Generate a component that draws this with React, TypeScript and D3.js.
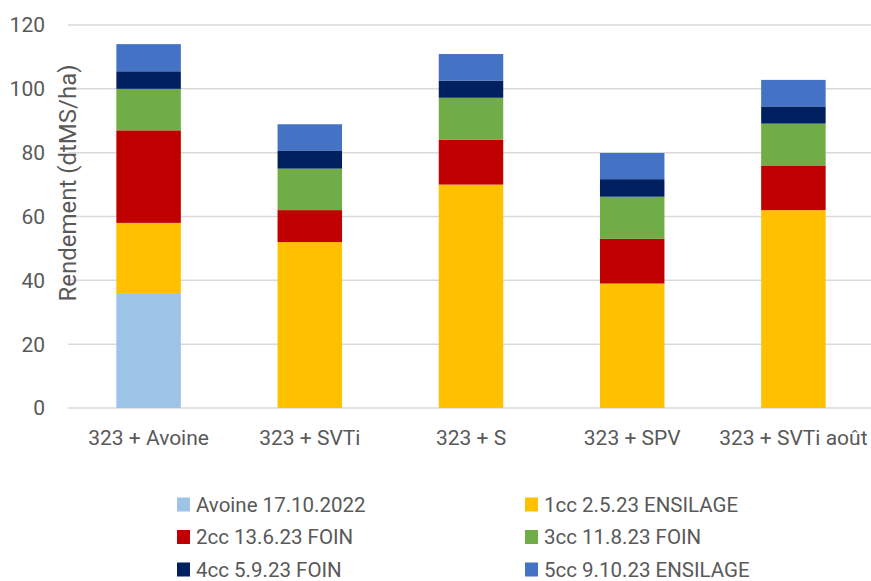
import React from "react";
import * as d3 from "d3";

const categories = ["323 + Avoine", "323 + SVTi", "323 + S", "323 + SPV", "323 + SVTi août"];
const seriesNames = [
  "Avoine 17.10.2022",
  "1cc 2.5.23 ENSILAGE",
  "2cc 13.6.23 FOIN",
  "3cc 11.8.23 FOIN",
  "4cc 5.9.23 FOIN",
  "5cc 9.10.23 ENSILAGE",
];
const seriesColors = ["#9dc3e6", "#ffc000", "#c00000", "#70ad47", "#002060", "#4472c4"];
const avoine = [36, 0, 0, 0, 0];
const cc1 = [22, 52, 70, 39, 62];
const cc2 = [29, 10, 14, 14, 14];
const cc3 = [13, 13, 13.2, 13.2, 13.1];
const cc4 = [5.5, 5.7, 5.4, 5.5, 5.4];
const cc5 = [8.5, 8.2, 8.3, 8.2, 8.3];
const yTicks = [0, 20, 40, 60, 80, 100, 120];

const W = 871;
const H = 581;
const FONT = "Roboto, 'Open Sans', sans-serif";

export default function App() {
  const seriesValues = [avoine, cc1, cc2, cc3, cc4, cc5];
  const rows = categories.map((c, i) => {
    const r: any = { cat: c };
    seriesNames.forEach((s, j) => (r[s] = seriesValues[j][i]));
    return r;
  });
  const stacked = d3.stack().keys(seriesNames)(rows);
  const x = d3.scaleBand().domain(categories).range([68, 874]).paddingInner(0.6).paddingOuter(0.3);
  const y = d3.scaleLinear().domain([0, 120]).range([408, 25]);
  const textColor = "#595959";

  return (
    <svg width={W} height={H} style={{ position: "absolute", left: 0, top: 0, background: "#fff" }}>
      <rect width={W} height={H} fill="#fff" />
      {yTicks.map((t) => (
        <g key={t}>
          <line x1={68} x2={874} y1={y(t)} y2={y(t)} stroke="#d9d9d9" strokeWidth={1.5} />
          <text x={45} y={y(t)} dy="0.35em" textAnchor="end" fontFamily={FONT} fontSize={21} fill={textColor}>
            {t}
          </text>
        </g>
      ))}
      {stacked.map((s, j) => (
        <g key={s.key} fill={seriesColors[j]}>
          {s.map((d, i) =>
            d[1] - d[0] > 0 ? (
              <rect
                key={i}
                x={x(categories[i])}
                width={x.bandwidth()}
                y={y(d[1])}
                height={y(d[0]) - y(d[1])}
              />
            ) : null
          )}
        </g>
      ))}
      {categories.map((c) => (
        <text
          key={c}
          x={(x(c) as number) + x.bandwidth() / 2}
          y={438}
          dy="0.35em"
          textAnchor="middle"
          fontFamily={FONT}
          fontSize={21}
          fill={textColor}
        >
          {c}
        </text>
      ))}
      <text
        transform={`translate(68,183) rotate(-90)`}
        dy="0.35em"
        textAnchor="middle"
        fontFamily={FONT}
        fontSize={24}
        fill={textColor}
      >
        Rendement (dtMS/ha)
      </text>
      {seriesNames.map((s, j) => {
        const col = j % 2;
        const row = Math.floor(j / 2);
        const lx = col === 0 ? 177 : 525;
        const ly = 504.5 + row * 32.5;
        return (
          <g key={s}>
            <rect x={lx} y={ly - 7} width={13} height={14} fill={seriesColors[j]} />
            <text x={lx + 19} y={ly} dy="0.35em" fontFamily={FONT} fontSize={20.5} fill={textColor}>
              {s}
            </text>
          </g>
        );
      })}
    </svg>
  );
}
